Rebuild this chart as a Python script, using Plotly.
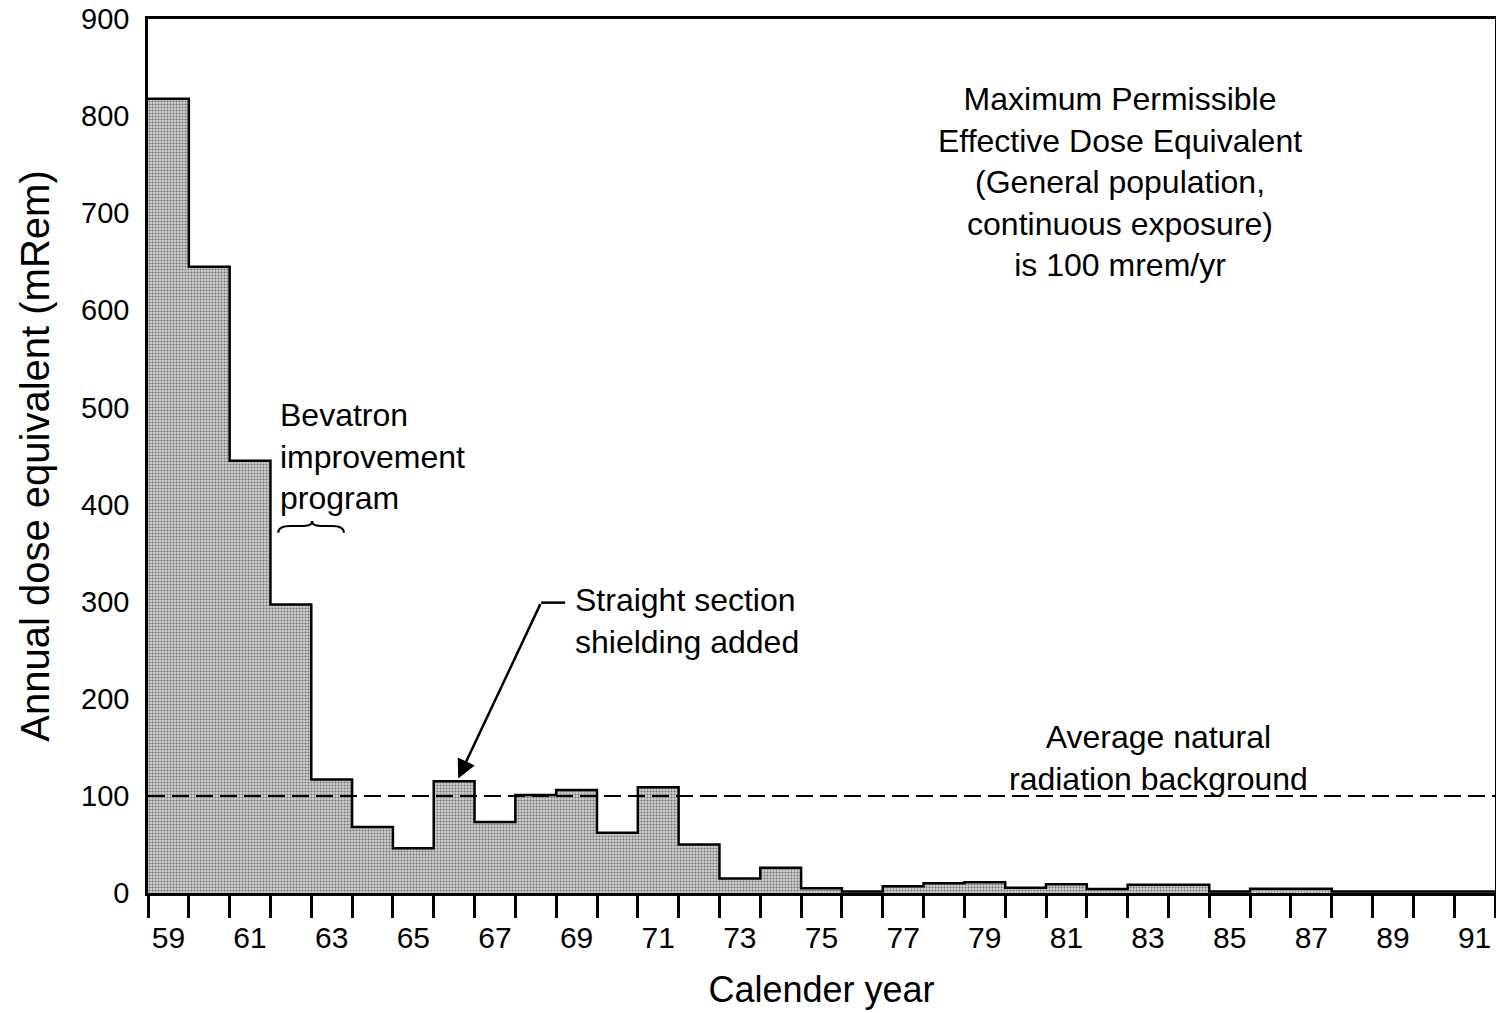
import plotly.graph_objects as go

# Annual dose equivalent at the site boundary, by calendar year (19xx)
years = list(range(59, 92))
dose_mrem = [818, 645, 445, 297, 117, 68, 46, 115, 73, 101, 106, 62, 109, 50,
             15, 26, 5, 1.5, 7, 10, 11, 5.5, 9, 4, 8.5, 8.5, 1.5, 4.5, 4.5,
             1.5, 1.5, 1.5, 1.5]
year_labels = [str(y) for y in years[::2]]
background_level = 100

FONT = "Liberation Sans, Arial, Helvetica, sans-serif"

# bar edges for the stepped outline and the edge ticks
edges = [y - 0.5 for y in years] + [years[-1] + 0.5]
step_y = dose_mrem + [dose_mrem[-1]]

fig = go.Figure()

fig.add_trace(go.Bar(
    x=years,
    y=dose_mrem,
    width=1,
    marker=dict(
        color="#b4b4b4",
        line=dict(width=0),
        pattern=dict(shape=".", fgcolor="#111111", bgcolor="#d2d2d2",
                     size=3, solidity=0.4),
    ),
    showlegend=False,
))

fig.add_trace(go.Scatter(
    x=edges,
    y=step_y,
    mode="lines",
    line=dict(color="black", width=2.5, shape="hv"),
    showlegend=False,
))

# average natural background (dashed)
fig.add_hline(y=background_level, line=dict(color="black", width=2, dash="17px,7px"))

# Bevatron brace
bx0, bxm, bx1 = 61.69, 62.52, 63.3
by_end, by_mid, by_pk = 371, 378, 383
fig.add_shape(
    type="path",
    path=(f"M {bx0},{by_end} Q {bx0},{by_mid} {bx0 + 0.3},{by_mid} "
          f"L {bxm - 0.2},{by_mid} Q {bxm},{by_mid} {bxm},{by_pk} "
          f"Q {bxm},{by_mid} {bxm + 0.2},{by_mid} "
          f"L {bx1 - 0.3},{by_mid} Q {bx1},{by_mid} {bx1},{by_end}"),
    line=dict(color="black", width=2),
)

# leader for the arrow
fig.add_shape(type="line", x0=68.13, x1=68.72, y0=299, y1=299,
              line=dict(color="black", width=2.5))

fig.add_annotation(
    x=66.1, y=118, xref="x", yref="y",
    ax=68.13, ay=299, axref="x", ayref="y",
    text="", showarrow=True, arrowhead=2, arrowsize=1.5,
    arrowwidth=2.5, arrowcolor="black",
)

txt = dict(family=FONT, size=32, color="black")
fig.add_annotation(
    x=68.92, y=280, xref="x", yref="y", xanchor="left", yanchor="middle",
    text="Straight section<br>shielding added", showarrow=False,
    align="left", font=txt,
)
fig.add_annotation(
    x=61.69, y=450, xref="x", yref="y", xanchor="left", yanchor="middle",
    text="Bevatron<br>improvement<br>program", showarrow=False,
    align="left", font=txt,
)
fig.add_annotation(
    x=82.32, y=732, xref="x", yref="y", xanchor="center", yanchor="middle",
    text=("Maximum Permissible<br>Effective Dose Equivalent<br>"
          "(General population,<br>continuous exposure)<br>is 100 mrem/yr"),
    showarrow=False, align="center", font=txt,
)
fig.add_annotation(
    x=83.25, y=139, xref="x", yref="y", xanchor="center", yanchor="middle",
    text="Average natural<br>radiation background", showarrow=False,
    align="center", font=txt,
)

fig.update_layout(
    width=1496,
    height=1013,
    margin=dict(l=148, r=1, t=19, b=120),
    plot_bgcolor="white",
    paper_bgcolor="white",
    font=dict(family=FONT, color="black"),
    bargap=0,
)

fig.update_xaxes(
    range=[edges[0], edges[-1]],
    tickmode="array",
    tickvals=years[::2],
    ticktext=year_labels,
    ticks="",
    ticklabelstandoff=16,
    ticklabeloverflow="allow",
    tickfont=dict(size=30),
    minor=dict(tickmode="array", tickvals=edges, ticks="outside",
               ticklen=22, tickwidth=3, tickcolor="black"),
    showgrid=False,
    zeroline=False,
    automargin=False,
    showline=True, linecolor="black", linewidth=3, mirror=True,
    title=dict(text="Calender year", font=dict(size=36), standoff=24),
)

fig.update_yaxes(
    range=[0, 900],
    tickmode="array",
    tickvals=list(range(0, 901, 100)),
    ticks="",
    ticklabelstandoff=10,
    ticklabeloverflow="allow",
    tickfont=dict(size=29),
    showgrid=False,
    zeroline=False,
    automargin=False,
    showline=True, linecolor="black", linewidth=2.5, mirror=True,
    title=dict(text="Annual dose equivalent (mRem)", font=dict(size=40), standoff=20),
)

# drop the default 8px page margin so the figure sits flush in the window
fig.write_html("out.html", config={"displayModeBar": False},
               post_script="document.body.style.margin = '0px';")
